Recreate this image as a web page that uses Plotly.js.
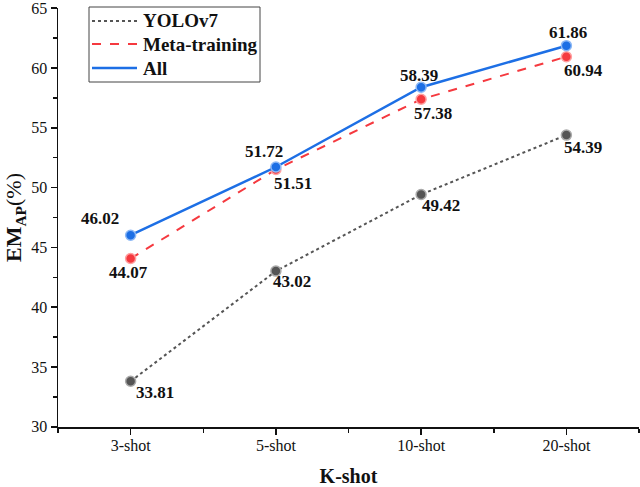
<!DOCTYPE html>
<html>
<head>
<meta charset="utf-8">
<script src="https://cdn.plot.ly/plotly-3.0.1.min.js"></script>
<style>html,body{margin:0;padding:0;background:#fff;}</style>
</head>
<body>
<div id="chart" style="width:640px;height:487px;"></div>
<script>
const categories = ["3-shot", "5-shot", "10-shot", "20-shot"];
const seriesNames = ["YOLOv7", "Meta-training", "All"];
const yolov7 = [33.81, 43.02, 49.42, 54.39];
const metaTraining = [44.07, 51.51, 57.38, 60.94];
const allData = [46.02, 51.72, 58.39, 61.86];

// label offsets (pixels) for each value label
const offYolo = [[24, 11], [16, 10], [20, 11], [17, 12]];
const offMeta = [[-2, 14], [17, 14], [12, 14], [17, 14]];
const offAll = [[-31, -17], [-12, -16], [-2, -12], [2, -13]];

const xs = categories.map((c, i) => i);
const font = "'Liberation Serif', 'Times New Roman', Times, serif";

const W = 640, H = 487, M = {l: 58, r: 1, t: 8, b: 60};
const pw = W - M.l - M.r, ph = H - M.t - M.b;
const px = x => (x - M.l) / pw;
const py = y => (H - M.b - y) / ph;

const styles = [
  {color: "#555555", dash: "dot", width: 2, mline: "#aaaaaa"},
  {color: "#f5393f", dash: "dash", width: 2, mline: "#ffa0a0"},
  {color: "#1d6fe5", dash: "solid", width: 2.5, mline: "#8cb8f5"}
];
const seriesData = [yolov7, metaTraining, allData];
const offsets = [offYolo, offMeta, offAll];

const traces = seriesData.map((ys, k) => ({
  type: "scatter", mode: "lines+markers", name: seriesNames[k], showlegend: false,
  x: xs, y: ys,
  line: {color: styles[k].color, dash: styles[k].dash, width: styles[k].width},
  marker: {symbol: "circle", size: 10, color: styles[k].color, line: {color: styles[k].mline, width: 1.5}}
}));

const annotations = [];
seriesData.forEach((ys, k) => {
  ys.forEach((v, i) => {
    annotations.push({
      x: xs[i], y: v, xref: "x", yref: "y", text: "<b>" + v.toFixed(2) + "</b>",
      showarrow: false, xshift: offsets[k][i][0], yshift: -offsets[k][i][1],
      font: {family: font, size: 17, color: "#111"}
    });
  });
});

// manual legend
const shapes = [{
  type: "rect", xref: "paper", yref: "paper",
  x0: px(89), x1: px(260), y0: py(82), y1: py(7),
  line: {color: "#444", width: 1}, fillcolor: "#fff", layer: "above"
}];
const rowY = [21, 44, 68];
seriesNames.forEach((n, k) => {
  shapes.push({
    type: "line", xref: "paper", yref: "paper",
    x0: px(92), x1: px(137), y0: py(rowY[k]), y1: py(rowY[k]),
    line: {color: styles[k].color, dash: styles[k].dash, width: styles[k].width}, layer: "above"
  });
  annotations.push({
    xref: "paper", yref: "paper", x: px(141), y: py(rowY[k]), xanchor: "left", yanchor: "middle",
    text: "<b>" + n + "</b>", showarrow: false,
    font: {family: font, size: 19, color: "#111"}
  });
});

const layout = {
  width: W, height: H,
  margin: M,
  paper_bgcolor: "#fff", plot_bgcolor: "#fff",
  font: {family: font, color: "#111"},
  showlegend: false,
  xaxis: {
    range: [-0.5, 3.5],
    tickvals: xs, ticktext: categories,
    showgrid: false, zeroline: false,
    showline: true, linecolor: "#111", linewidth: 1.5,
    ticks: "outside", ticklen: 6, tickwidth: 1.5, tickcolor: "#111",
    tickfont: {family: font, size: 16, color: "#111"},
    ticklabelstandoff: -3,
    minor: {tickvals: [-0.5, 0.5, 1.5, 2.5, 3.5], ticks: "outside", ticklen: 4, tickwidth: 1.5, tickcolor: "#111"},
    title: {text: "<b>K-shot</b>", font: {family: font, size: 20, color: "#111"}, standoff: 16}
  },
  yaxis: {
    range: [29.99, 65.01],
    tickvals: [30, 35, 40, 45, 50, 55, 60, 65],
    ticklabeloverflow: "allow",
    showgrid: false, zeroline: false,
    showline: true, linecolor: "#111", linewidth: 1.5,
    ticks: "outside", ticklen: 6, tickwidth: 1.5, tickcolor: "#111",
    tickfont: {family: font, size: 16, color: "#111"},
    minor: {tickvals: [32.5, 37.5, 42.5, 47.5, 52.5, 57.5, 62.5], ticks: "outside", ticklen: 4, tickwidth: 1.5, tickcolor: "#111"},
    title: {text: "<b>EM<sub>AP</sub></b>(%)", font: {family: font, size: 22, color: "#111"}, standoff: 3}
  },
  shapes: shapes,
  annotations: annotations
};

Plotly.newPlot("chart", traces, layout, {displayModeBar: false, staticPlot: true});
</script>
</body>
</html>
